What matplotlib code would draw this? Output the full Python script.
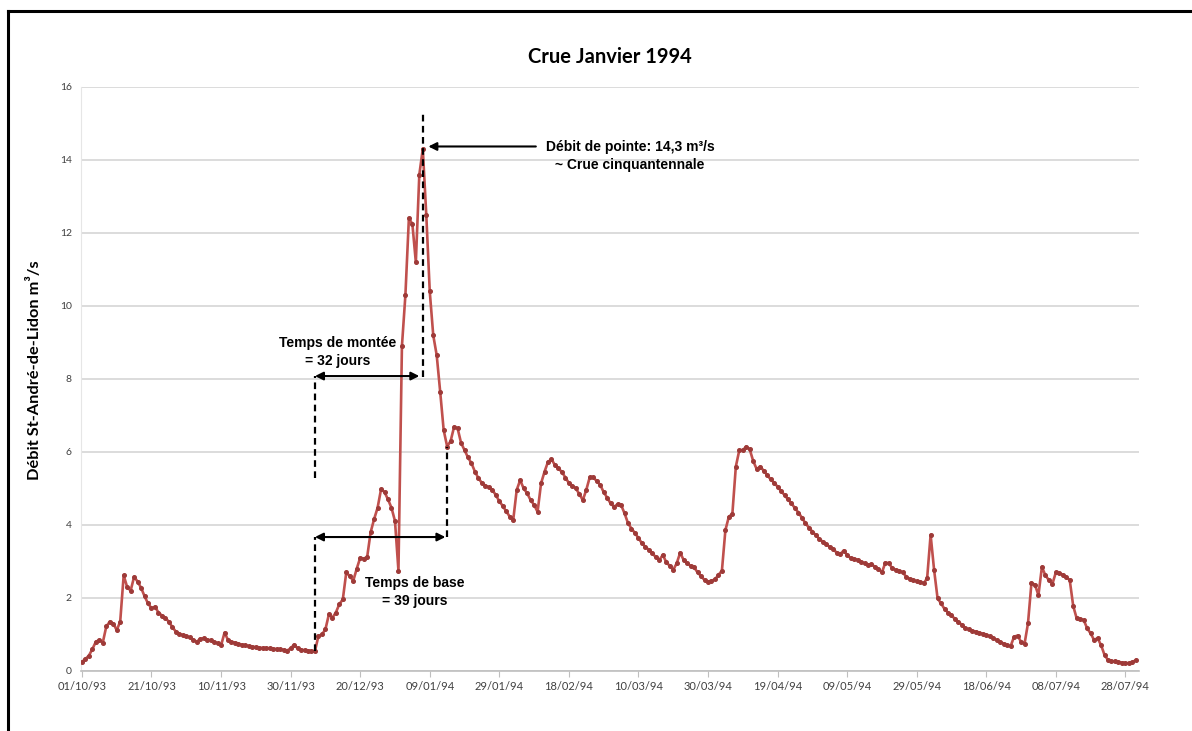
import matplotlib.pyplot as plt
import matplotlib.dates as mdates
import numpy as np
import pandas as pd
from matplotlib.lines import Line2D

# Débit journalier (m3/s), du 01/10/93 au 31/07/94
debit_oct93 = [0.25, 0.33, 0.42, 0.60, 0.80, 0.85, 0.78, 1.22, 1.35, 1.30,
               1.12, 1.35, 2.62, 2.30, 2.20, 2.58, 2.45, 2.28, 2.05, 1.85,
               1.72, 1.76, 1.60, 1.52, 1.45, 1.35, 1.20, 1.08, 1.02, 0.98, 0.95]
debit_nov93 = [0.92, 0.86, 0.80, 0.88, 0.90, 0.86, 0.84, 0.80, 0.76, 0.70,
               1.05, 0.85, 0.80, 0.78, 0.75, 0.72, 0.70, 0.68, 0.67, 0.65,
               0.64, 0.63, 0.63, 0.62, 0.61, 0.60, 0.59, 0.58, 0.56, 0.62]
debit_dec93 = [0.72, 0.62, 0.58, 0.57, 0.56, 0.54, 0.55, 0.96, 1.00, 1.14,
               1.55, 1.46, 1.60, 1.83, 1.96, 2.70, 2.60, 2.47, 2.80, 3.10,
               3.08, 3.12, 3.80, 4.16, 4.47, 4.98, 4.90, 4.70, 4.47, 4.11, 2.75]
debit_jan94 = [8.90, 10.30, 12.40, 12.25, 11.20, 13.60, 14.30, 12.50, 10.40, 9.20,
               8.65, 7.65, 6.60, 6.15, 6.30, 6.69, 6.65, 6.25, 6.05, 5.85,
               5.69, 5.46, 5.28, 5.15, 5.08, 5.03, 4.96, 4.82, 4.65, 4.52, 4.37]
debit_feb94 = [4.23, 4.14, 4.96, 5.23, 5.00, 4.87, 4.68, 4.55, 4.36, 5.14,
               5.46, 5.73, 5.80, 5.64, 5.55, 5.45, 5.30, 5.15, 5.08, 5.00,
               4.85, 4.68, 4.96, 5.31, 5.31, 5.20, 5.10, 4.90]
debit_mar94 = [4.75, 4.59, 4.50, 4.57, 4.55, 4.32, 4.05, 3.90, 3.78, 3.64,
               3.50, 3.40, 3.32, 3.22, 3.12, 3.04, 3.18, 2.98, 2.88, 2.77,
               2.95, 3.24, 3.04, 2.95, 2.88, 2.84, 2.70, 2.60, 2.49, 2.45, 2.47]
debit_apr94 = [2.51, 2.63, 2.75, 3.86, 4.23, 4.30, 5.60, 6.05, 6.05, 6.15,
               6.07, 5.75, 5.53, 5.60, 5.49, 5.37, 5.25, 5.16, 5.05, 4.93,
               4.82, 4.70, 4.59, 4.46, 4.34, 4.20, 4.05, 3.93, 3.82, 3.72]
debit_may94 = [3.62, 3.54, 3.47, 3.40, 3.34, 3.24, 3.20, 3.30, 3.18, 3.09,
               3.07, 3.05, 2.99, 2.95, 2.90, 2.93, 2.85, 2.80, 2.70, 2.97,
               2.95, 2.81, 2.77, 2.74, 2.70, 2.58, 2.52, 2.48, 2.46, 2.45, 2.40]
debit_jun94 = [2.54, 3.73, 2.77, 1.99, 1.85, 1.70, 1.60, 1.53, 1.42, 1.35,
               1.26, 1.17, 1.14, 1.10, 1.08, 1.05, 1.02, 0.99, 0.95, 0.90,
               0.85, 0.80, 0.75, 0.70, 0.68, 0.94, 0.97, 0.80, 0.74, 1.31]
debit_jul94 = [2.42, 2.36, 2.08, 2.85, 2.62, 2.49, 2.38, 2.70, 2.68, 2.64,
               2.57, 2.49, 1.78, 1.44, 1.42, 1.40, 1.17, 1.03, 0.85, 0.90,
               0.71, 0.44, 0.30, 0.27, 0.26, 0.25, 0.23, 0.22, 0.21, 0.24, 0.30]

debit = np.array(debit_oct93 + debit_nov93 + debit_dec93 + debit_jan94 + debit_feb94
                 + debit_mar94 + debit_apr94 + debit_may94 + debit_jun94 + debit_jul94)
jours = pd.date_range("1993-10-01", periods=len(debit), freq="D")
x = mdates.date2num(jours)

# repères de l'hydrogramme
i_debut = 67                     # début de la montée
i_pointe = int(np.argmax(debit)) # débit de pointe
i_fin = 105                      # fin du temps de base

plt.rcParams["font.family"] = ["Lato", "DejaVu Sans"]
annot = dict(fontsize=10, fontweight="bold", family=["Liberation Sans", "DejaVu Sans"],
             ha="center", va="center", linespacing=1.35)

fig = plt.figure(figsize=(11.92, 7.31), dpi=100)
ax = fig.add_axes([0.0683, 0.0821, 0.8872, 0.7989])

ax.plot(x, debit, color="#C0504D", lw=1.9, marker="o", ms=2.6,
        mfc="#9E3A38", mec="#9E3A38", zorder=3)

ax.set_xlim(x[0] - 0.15, x[0] + 303.9)
ax.set_ylim(0, 16)
ax.set_yticks(range(0, 17, 2))
ax.set_xticks(x[::20])
ax.xaxis.set_major_formatter(mdates.DateFormatter("%d/%m/%y"))
ax.grid(axis="y", color="#D9D9D9", lw=1.3)
ax.set_axisbelow(True)
ax.spines["top"].set_visible(False)
ax.spines["right"].set_visible(False)
ax.spines["left"].set_color("#E6E6E6")
ax.spines["bottom"].set_color("#BFBFBF")
ax.spines["bottom"].set_linewidth(1.2)
ax.tick_params(axis="y", length=0, pad=7, labelsize=7.5, labelcolor="#404040")
ax.tick_params(axis="x", length=4, color="#BFBFBF", labelsize=8, labelcolor="#404040", pad=3)

fig.text(610 / 1192, 1 - 57 / 731, "Crue Janvier 1994", ha="center", va="center",
         fontsize=14.5, fontweight="bold")
fig.text(35 / 1192, 1 - 370 / 731, "Débit St-André-de-Lidon m³/s", ha="center", va="center",
         rotation=90, fontsize=11.8, fontweight="bold")

dash = (0, (3, 2))
xd, xp, xf = x[i_debut], x[i_pointe], x[i_fin]
flat = dict(color="black", lw=1.5, mutation_scale=12, shrinkA=0, shrinkB=0)

# débit de pointe
ax.plot([xp, xp], [8.05, 15.35], color="black", lw=1.6, ls=dash, zorder=4)
ax.annotate("", xy=(xp + 1.6, 14.37), xytext=(xp + 32.5, 14.37),
            arrowprops=dict(arrowstyle="-|>", **flat))
ax.text(x[0] + 157.6, 14.11, "Débit de pointe: 14,3 m³/s\n~ Crue cinquantennale", **annot)

# temps de montée
ax.plot([xd, xd], [5.3, 8.08], color="black", lw=1.6, ls=dash, zorder=4)
ax.annotate("", xy=(xp - 1.0, 8.08), xytext=(xd, 8.08),
            arrowprops=dict(arrowstyle="<|-|>", **flat))
ax.text(x[0] + 73.4, 8.73, "Temps de montée\n= 32 jours", **annot)

# temps de base
ax.plot([xd, xd], [debit[i_debut], 3.67], color="black", lw=1.6, ls=dash, zorder=4)
ax.plot([xf, xf], [3.67, debit[i_fin]], color="black", lw=1.6, ls=dash, zorder=4)
ax.annotate("", xy=(xf - 0.5, 3.67), xytext=(xd, 3.67),
            arrowprops=dict(arrowstyle="<|-|>", **flat))
ax.text(x[0] + 95.7, 2.17, "Temps de base\n= 39 jours", **annot)

# cadre de la figure
fig.add_artist(Line2D([8 / 1192, 8 / 1192], [0, 1 - 11 / 731], color="black", lw=2.2,
                      transform=fig.transFigure))
fig.add_artist(Line2D([8 / 1192, 1], [1 - 11 / 731, 1 - 11 / 731], color="black", lw=2.2,
                      transform=fig.transFigure))

fig.savefig("out.png", dpi=100)
